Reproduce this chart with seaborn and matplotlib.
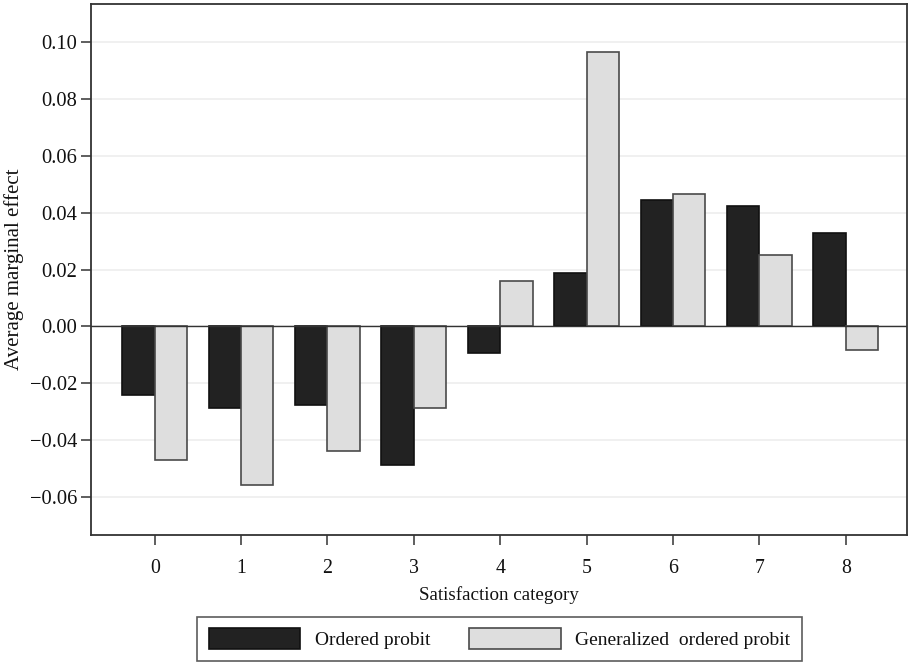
import matplotlib
matplotlib.use("Agg")
import matplotlib.pyplot as plt
from matplotlib.patches import Patch
import seaborn as sns
import pandas as pd

categories = ["0", "1", "2", "3", "4", "5", "6", "7", "8"]
ordered_probit = [-0.0241, -0.0286, -0.0276, -0.0490, -0.0094, 0.0189, 0.0443, 0.0422, 0.0328]
generalized_ordered_probit = [-0.0470, -0.0560, -0.0438, -0.0287, 0.0158, 0.0965, 0.0465, 0.0251, -0.0083]
series_names = ["Ordered probit", "Generalized  ordered probit"]
y_ticks = [-0.06, -0.04, -0.02, 0.00, 0.02, 0.04, 0.06, 0.08, 0.10]
x_label = "Satisfaction category"
y_label = "Average marginal effect"

df = pd.DataFrame({
    "category": categories * 2,
    "value": ordered_probit + generalized_ordered_probit,
    "model": [series_names[0]] * len(categories) + [series_names[1]] * len(categories),
})

sns.set_theme(style="white")
plt.rcParams["font.family"] = ["Liberation Serif", "DejaVu Serif"]
plt.rcParams["axes.unicode_minus"] = True

fills = ["#222222", "#dedede"]
edges = ["#111111", "#4a4a4a"]

fig = plt.figure(figsize=(9.11, 6.62), dpi=100)
ax = fig.add_axes([0.1002, 0.1918, 0.8958, 0.8022])

sns.barplot(data=df, x="category", y="value", hue="model", order=categories,
            hue_order=series_names, palette=fills, width=0.75, ax=ax,
            legend=False, saturation=1)

for cont, ec in zip(ax.containers, edges):
    for p in cont.patches:
        p.set_edgecolor(ec)
        p.set_linewidth(1.2)

ax.set_xlim(-0.734, 8.713)
ax.set_ylim(-0.0735, 0.1135)
ax.set_yticks(y_ticks)
ax.set_yticklabels([f"{t:.2f}".replace("-", "\u2212") for t in y_ticks])
ax.yaxis.grid(True, color="#eeeeee", linewidth=1.2)
ax.xaxis.grid(False)
ax.set_axisbelow(True)
ax.axhline(0, color="#333333", linewidth=1.0, zorder=1.5)

for s in ax.spines.values():
    s.set_visible(True)
    s.set_color("#333333")
    s.set_linewidth(1.3)

ax.tick_params(axis="both", which="major", direction="out", length=7,
               width=1.1, color="#333333", labelcolor="#111111",
               bottom=True, left=True)
ax.tick_params(axis="y", pad=3, labelsize=14.8)
ax.tick_params(axis="x", pad=10, labelsize=14.3)

ax.set_xlabel(x_label, fontsize=13.7, color="#111111", labelpad=6)
ax.set_ylabel(y_label, fontsize=15, color="#111111", labelpad=4)

handles = [Patch(facecolor=fills[i], edgecolor=edges[i], linewidth=1.2) for i in range(2)]
leg = fig.legend(handles, series_names, loc="upper left",
                 bbox_to_anchor=(0.2166, 0.0684), ncol=2, fontsize=14,
                 frameon=True, fancybox=False, edgecolor="#333333",
                 handlelength=4.7, handleheight=1.25, handletextpad=0.75,
                 columnspacing=2.0, borderpad=0.6, borderaxespad=0)
leg.get_frame().set_linewidth(1.2)
for t in leg.get_texts():
    t.set_color("#111111")

fig.savefig("out.png", dpi=100)
